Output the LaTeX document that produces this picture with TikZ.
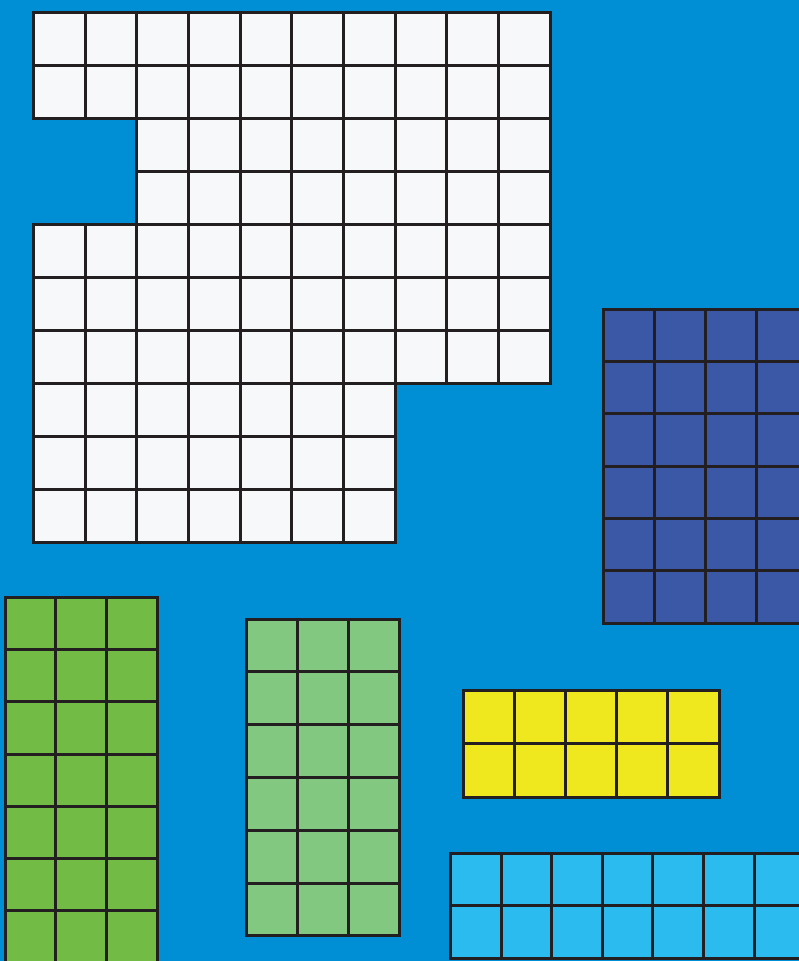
\documentclass[tikz,border=0pt]{standalone}
\usepackage{xcolor}
\usepackage{tikz}
\definecolor{sea}{HTML}{008FD5}
\definecolor{paper}{HTML}{F7F8FA}
\definecolor{deepblue}{HTML}{3A58A6}
\definecolor{grass}{HTML}{72BB44}
\definecolor{sage}{HTML}{82C881}
\definecolor{lemon}{HTML}{F0E81E}
\definecolor{sky}{HTML}{2CBBEE}
\definecolor{edge}{HTML}{231F20}

\begin{document}
\begin{tikzpicture}[
  x=0.75pt, y=-0.75pt,
  cell/.style={draw=edge, line width=2.25pt, line join=miter}
]
  \useasboundingbox (0,0) rectangle (799,961);
  \fill[sea] (0,0) rectangle (799,961);
  \clip (0,0) rectangle (799,961);

  % white block, row by row: row / first column / last column
  \foreach \r/\a/\b in {0/0/9, 1/0/9, 2/2/9, 3/2/9, 4/0/9, 5/0/9, 6/0/9, 7/0/6, 8/0/6, 9/0/6}
    \foreach \c in {\a,...,\b}
      \draw[cell, fill=paper] ({33.3+51.7*\c},{12.3+53*\r}) rectangle ++(51.7,53);

  % coloured blocks: left / top / cell width / cell height / columns / rows / colour
  \foreach \px/\py/\dx/\dy/\nc/\nr/\tone in {
      603.3/309.3/50.9/52.3/4/6/deepblue,
      5/597.7/50.7/52.1/3/7/grass,
      246/619/51/52.8/3/6/sage,
      463.7/690/51.06/53.5/5/2/lemon,
      450.7/853.3/50.55/52.5/7/2/sky}
    \foreach \c in {1,...,\nc}
      \foreach \r in {1,...,\nr}
        \draw[cell, fill=\tone] ({\px+\dx*(\c-1)},{\py+\dy*(\r-1)}) rectangle ++(\dx,\dy);
\end{tikzpicture}
\end{document}
